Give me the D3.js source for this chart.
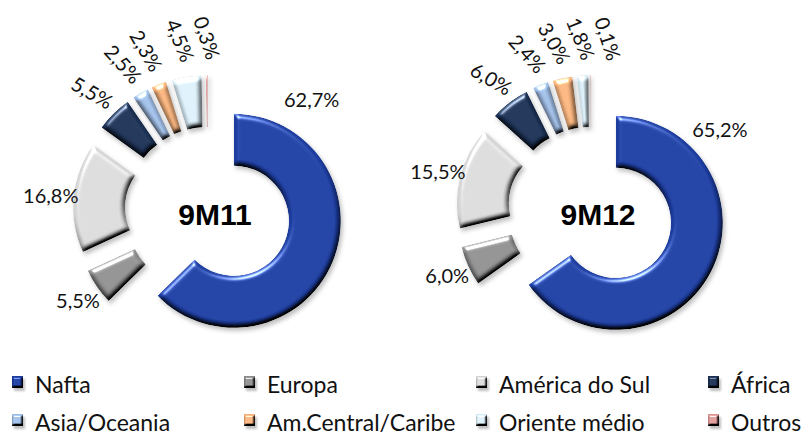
<!DOCTYPE html>
<html>
<head>
<meta charset="utf-8">
<script src="https://cdn.jsdelivr.net/npm/d3@7"></script>
<style>
  body { margin: 0; background: #fff; }
  svg text { font-family: Lato, "Open Sans", sans-serif; fill: #111; }
</style>
</head>
<body>
<svg id="chart" width="805" height="439"></svg>
<script>
// Data
const regions = ["Nafta", "Europa", "América do Sul", "África", "Asia/Oceania",
  "Am.Central/Caribe", "Oriente médio", "Outros"]
const periods = ["9M11", "9M12"]
const share9M11 = [62.7, 5.5, 16.8, 5.5, 2.5, 2.3, 4.5, 0.3]
const share9M12 = [65.2, 6.0, 15.5, 6.0, 2.4, 3.0, 1.8, 0.1]
const shares = [share9M11, share9M12]

const colours = ["#1c3c9e", "#8c8c8c", "#d4d4d4", "#1b2f52", "#9dbae2",
  "#f3b07b", "#d6e9f3", "#d99694"]

// Layout
const innerR = 55, outerR = 107, explode = 28
const centreY = 210
const naftaLabelAngle = [43, 58]   // degrees, where the big label sits
const tilt = [30, 48, 60, 68, 72]  // rotation of the small labels
const minLabelGap = 9              // degrees between small labels

const svg = d3.select("#chart")

// Soft bevel + shadow like the office chart
const defs = svg.append("defs")
function bevel(id, blur, region) {
  let f = defs.append("filter")
    .attr("id", id)
    .attr("filterUnits", "userSpaceOnUse")
    .attr("color-interpolation-filters", "sRGB")
    .attr("x", region[0]).attr("y", region[1])
    .attr("width", region[2]).attr("height", region[3])
  f.append("feGaussianBlur").attr("in", "SourceAlpha").attr("stdDeviation", blur).attr("result", "blur")
  f.append("feDiffuseLighting").attr("in", "blur").attr("surfaceScale", 3)
    .attr("diffuseConstant", 1.55).attr("lighting-color", "#fff").attr("result", "diff")
    .append("feDistantLight").attr("azimuth", 250).attr("elevation", 40)
  f.append("feComposite").attr("in", "SourceGraphic").attr("in2", "diff")
    .attr("operator", "arithmetic").attr("k1", 1).attr("k2", 0).attr("k3", 0).attr("k4", 0)
    .attr("result", "shaded")
  f.append("feSpecularLighting").attr("in", "blur").attr("surfaceScale", 3)
    .attr("specularConstant", 0.8).attr("specularExponent", 30)
    .attr("lighting-color", "#fff").attr("result", "spec")
    .append("feDistantLight").attr("azimuth", 250).attr("elevation", 40)
  f.append("feComposite").attr("in", "spec").attr("in2", "SourceAlpha")
    .attr("operator", "in").attr("result", "specIn")
  f.append("feComposite").attr("in", "shaded").attr("in2", "specIn")
    .attr("operator", "arithmetic").attr("k1", 0).attr("k2", 1).attr("k3", 1).attr("k4", 0)
    .attr("result", "lit")
  f.append("feComposite").attr("in", "lit").attr("in2", "SourceAlpha")
    .attr("operator", "in").attr("result", "final")
  f.append("feGaussianBlur").attr("in", "SourceAlpha").attr("stdDeviation", blur * 0.8).attr("result", "sb")
  f.append("feOffset").attr("in", "sb").attr("dx", 1.5).attr("dy", 2.5).attr("result", "so")
  f.append("feFlood").attr("flood-color", "#000").attr("flood-opacity", 0.25)
  f.append("feComposite").attr("in2", "so").attr("operator", "in").attr("result", "shadow")
  let m = f.append("feMerge")
  m.append("feMergeNode").attr("in", "shadow")
  m.append("feMergeNode").attr("in", "final")
}
bevel("bevel", 2.5, [-300, -300, 600, 600])
bevel("bevelKey", 1.2, [-6, -6, 26, 26])

const x = d3.scalePoint().domain(periods).range([208, 591])
const colour = d3.scaleOrdinal().domain(regions).range(colours)
const fmt = v => d3.format(".1f")(v).replace(".", ",") + "%"

const pie = d3.pie().sort(null).value(d => d)
const arc = d3.arc().innerRadius(innerR).outerRadius(outerR)
const polar = (a, r) => [r * Math.sin(a), -r * Math.cos(a)]
const rad = d => d * Math.PI / 180

periods.forEach((p, pi) => {
  let g = svg.append("g")
    .attr("class", "donut")
    .attr("transform", `translate(${x(p)},${centreY})`)

  let arcs = pie(shares[pi]).map((d, i) => ({ ...d, region: regions[i], i }))

  // Spread the small labels so they do not collide
  let prev = -Infinity
  arcs.forEach(d => {
    d.mid = (d.startAngle + d.endAngle) / 2
    d.labelAngle = d.mid
    if (d.i >= 3) {
      d.labelAngle = Math.max(d.mid, prev + rad(minLabelGap))
      prev = d.labelAngle
    }
  })

  // Exploded slices
  g.selectAll("g.slice")
    .data(arcs)
    .join("g")
    .attr("class", "slice")
    .attr("transform", d => {
      let [dx, dy] = polar(d.mid, explode)
      return `translate(${dx},${dy})`
    })
    .append("path")
    .attr("d", arc)
    .attr("fill", d => colour(d.region))
    .attr("filter", "url(#bevel)")

  // Value labels
  g.selectAll("text.value")
    .data(arcs)
    .join("text")
    .attr("class", "value")
    .attr("text-anchor", "middle")
    .attr("dominant-baseline", "central")
    .style("font-size", "20px")
    .attr("transform", d => {
      if (d.i === 0) {
        let [lx, ly] = polar(rad(naftaLabelAngle[pi]), 152)
        return `translate(${lx},${ly})`
      }
      if (d.i < 3) {
        let [lx, ly] = polar(d.mid, 158)
        return `translate(${lx},${ly})`
      }
      let t = tilt[d.i - 3]
      let [lx, ly] = polar(d.labelAngle, outerR + explode + 22 + 16 * Math.sin(rad(t)))
      return `translate(${lx},${ly}) rotate(${t})`
    })
    .text(d => fmt(d.data))

  // Period in the hole
  g.append("text")
    .attr("x", 7)
    .attr("y", 15)
    .attr("text-anchor", "middle")
    .style("font-family", "'Liberation Sans', Arial, sans-serif")
    .style("font-weight", "bold")
    .style("font-size", "30px")
    .style("fill", "#000")
    .text(p)
})

// Legend, 4 columns x 2 rows
const legend = svg.append("g").attr("class", "legend")
const keys = legend.selectAll("g.key")
  .data(regions)
  .join("g")
  .attr("class", "key")
  .attr("transform", (d, i) => `translate(${12 + (i % 4) * 232},${376 + Math.floor(i / 4) * 38})`)
keys.append("rect")
  .attr("width", 11)
  .attr("height", 12)
  .attr("fill", d => colour(d))
  .attr("filter", "url(#bevelKey)")
keys.append("text")
  .attr("x", 23)
  .attr("y", 17)
  .style("font-size", "23px")
  .text(d => d)
</script>
</body>
</html>
